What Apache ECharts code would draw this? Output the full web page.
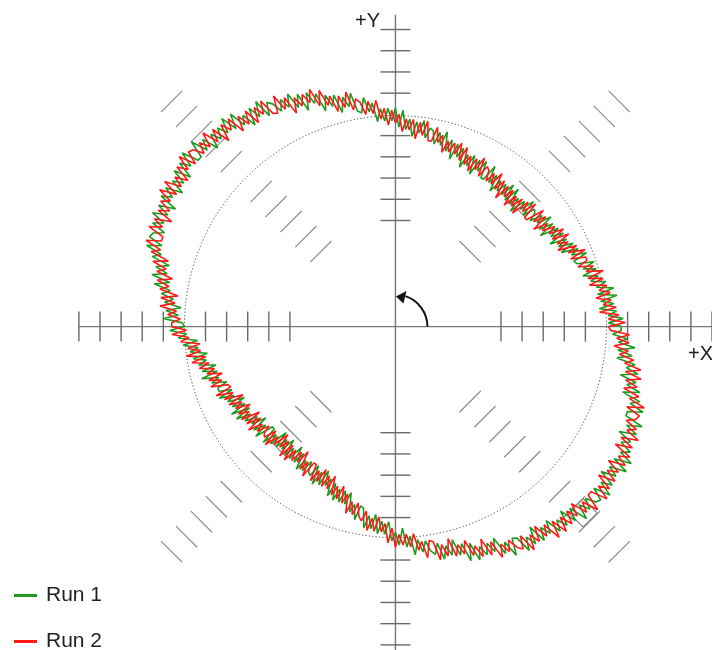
<!DOCTYPE html>
<html><head><meta charset="utf-8">
<script src="https://cdn.jsdelivr.net/npm/echarts@6/dist/echarts.min.js"></script>
<style>html,body{margin:0;padding:0;background:#fff}#c{width:712px;height:650px}</style>
</head><body><div id="c"></div>
<script>
// ---- data (radius in % of nominal, one sample per degree, CCW from +X) ----
const ANGLE_STEP_DEG = 1;
const seriesNames = ['Run 1', 'Run 2'];
const run1R = [
107,101,108,101,105,97,104,98,106,97, 105,97,102,95,99,92,99,93,99,91,
90,97,90,94,86,93,86,91,83,91, 85,90,81,89,82,90,83,87,81,85,
86,80,88,81,85,77,84,79,87,79, 87,80,85,80,85,78,86,81,89,81,
81,89,83,88,80,89,83,88,81,90, 85,91,83,92,86,95,88,94,88,94,
95,90,98,92,97,90,98,93,102,94, 103,97,103,97,103,97,106,102,109,102,
103,112,106,111,104,113,108,114,107,116, 112,118,110,119,113,121,115,120,115,120,
122,116,125,118,124,116,123,119,127,120, 128,121,126,121,126,119,127,122,130,122,
122,130,123,128,120,128,121,126,119,127, 122,127,118,126,120,127,120,125,118,123,
124,117,124,116,120,111,117,111,118,109, 116,108,112,106,110,102,109,103,110,101,
100,107,99,103,94,101,94,98,90,97, 91,95,87,94,87,95,87,91,84,89,
89,83,90,83,87,79,86,80,88,79, 87,80,84,78,82,75,83,77,84,75,
75,83,76,81,72,80,74,79,72,80, 75,80,72,80,74,82,76,81,75,80,
81,75,84,77,83,75,82,78,86,79, 87,81,87,81,87,81,90,86,93,86,
87,96,90,96,89,98,92,98,92,101, 97,103,95,104,99,108,101,107,102,107,
109,104,112,106,111,104,112,107,116,108, 117,111,116,111,116,110,119,114,122,114,
115,123,117,122,114,123,117,122,116,124, 119,124,117,125,119,128,121,126,121,126,
127,121,129,122,127,119,126,121,129,121, 129,122,126,120,124,117,125,119,126,117,
117,124,117,121,112,120,113,117,109,117, 111,115,106,113,106,114,106,110,103,107
];
const run2R = [
101,109,101,106,97,105,99,103,96,103, 98,102,94,101,94,102,94,98,91,96,
96,89,97,89,94,85,91,86,93,85, 92,85,89,83,87,80,88,82,89,80,
80,88,81,86,77,85,79,84,77,85, 80,85,77,86,80,88,81,86,81,86,
87,81,90,83,88,81,88,83,91,84, 92,86,91,86,91,85,93,89,96,89,
89,98,91,97,89,98,93,98,92,100, 96,102,95,103,98,107,101,107,101,107,
109,104,113,106,112,105,113,109,117,110, 119,113,118,113,118,111,120,115,123,115,
116,124,118,123,116,124,118,124,117,126, 121,126,118,127,121,129,122,127,122,127,
128,122,130,123,128,120,126,121,129,121, 129,122,126,120,125,117,125,120,126,118,
118,125,117,121,112,119,112,116,108,115, 109,113,104,112,105,112,104,108,102,106,
106,99,106,98,102,93,99,93,100,91, 98,90,95,88,92,85,92,86,92,84,
83,91,83,88,79,87,81,85,78,85, 80,85,76,84,77,85,78,82,76,80,
81,75,83,76,80,72,79,74,82,74, 82,75,80,74,79,72,81,76,83,75,
75,83,77,82,75,83,77,83,76,85, 80,86,79,87,82,91,85,91,85,91,
93,88,97,91,97,90,97,93,102,95, 104,98,103,98,104,98,106,102,110,102,
103,112,105,111,103,112,107,112,106,114, 110,116,108,117,111,120,114,119,114,119,
121,115,124,117,122,115,122,117,126,118, 126,119,125,119,124,118,126,121,129,121,
121,129,122,127,119,127,121,126,119,127, 122,127,118,126,119,127,120,124,118,122,
123,116,124,116,120,112,118,112,119,111, 118,110,114,107,111,104,111,105,111,102
];
const nominalRadius = 100;
const tickRadii = [50, 60, 70, 80, 90, 110, 120, 130, 140, 150];
const tickDirections = [0, 45, 90, 135, 180, 225, 270, 315];
const axisLabels = ['+X', '+Y'];
const startMarker = [88.9, -87.8];

// ---- build ----
const D2R = Math.PI / 180;
function toXY(rs) {
  const pts = rs.map((r, i) => {
    const a = i * ANGLE_STEP_DEG * D2R;
    return [r * Math.cos(a), r * Math.sin(a)];
  });
  pts.push(pts[0]);
  return pts;
}
const tickData = [];
tickDirections.forEach(d => tickRadii.forEach(r => {
  if (!(d === 90 && r === 150)) tickData.push([r, d]);
}));
const FONT = '"Liberation Sans", Arial, sans-serif';
const legendText = {fontSize: 21, color: '#222', fontFamily: FONT, padding: [0, 0, 0, 4]};

const chart = echarts.init(document.getElementById('c'), null, {renderer: 'canvas'});
chart.setOption({
  animation: false,
  backgroundColor: '#fff',
  grid: {left: 78.9, top: 8.3, width: 636.6, height: 636.6},
  xAxis: {type: 'value', min: -150, max: 150, show: false},
  yAxis: {type: 'value', min: -150, max: 150, show: false},
  legend: [
    {data: [seriesNames[0]], left: 14, top: 585, padding: 0, itemWidth: 23, itemHeight: 3, icon: 'rect', textStyle: legendText},
    {data: [seriesNames[1]], left: 14, top: 631, padding: 0, itemWidth: 23, itemHeight: 3, icon: 'rect', textStyle: legendText}
  ],
  series: [
    {
      type: 'custom', z: 1, silent: true, clip: false,
      data: [[0, 0]],
      encode: {x: 0, y: 1},
      renderItem: function (params, api) {
        const c = api.coord([0, 0]);
        const e = api.coord([nominalRadius, 0]);
        const R = e[0] - c[0];
        const xl = api.coord([-150, 0]), xr = api.coord([160, 0]);
        const yt = api.coord([0, 147]), yb = api.coord([0, -160]);
        const m = api.coord(startMarker);
        const aR = 32;
        return {
          type: 'group', children: [
            {type: 'line', shape: {x1: xl[0], y1: c[1], x2: xr[0], y2: c[1]}, style: {stroke: '#777', lineWidth: 1.4}},
            {type: 'line', shape: {x1: c[0], y1: yt[1], x2: c[0], y2: yb[1]}, style: {stroke: '#777', lineWidth: 1.4}},
            {type: 'circle', shape: {cx: c[0], cy: c[1], r: R}, style: {fill: 'none', stroke: '#444', lineWidth: 1, lineDash: [1.2, 2.2]}},
            {type: 'arc', shape: {cx: c[0], cy: c[1], r: aR, startAngle: -72 * D2R, endAngle: 0, clockwise: true}, style: {fill: 'none', stroke: '#111', lineWidth: 2}},
            {type: 'polygon', shape: {points: [[c[0] + 0.5, c[1] - 30], [c[0] + 11, c[1] - 35.5], [c[0] + 8, c[1] - 23]]}, style: {fill: '#111'}},
            {type: 'rect', x: m[0], y: m[1], rotation: 45 * D2R, shape: {x: -10, y: -10, width: 20, height: 20}, style: {fill: 'none', stroke: '#777', lineWidth: 1}}
          ]
        };
      }
    },
    {
      type: 'custom', z: 1, silent: true, clip: false,
      data: tickData,
      encode: {x: -1, y: -1},
      renderItem: function (params, api) {
        const r = api.value(0), d = api.value(1);
        const a = d * D2R;
        const p = api.coord([r * Math.cos(a), r * Math.sin(a)]);
        const tx = Math.sin(a), ty = Math.cos(a), h = 15;
        const diag = d % 90 !== 0;
        return {type: 'line', shape: {x1: p[0] - tx * h, y1: p[1] - ty * h, x2: p[0] + tx * h, y2: p[1] + ty * h},
          style: {stroke: diag ? '#8c8c8c' : '#6a6a6a', lineWidth: diag ? 1.2 : 1.4}};
      }
    },
    {
      name: seriesNames[0], type: 'line', z: 3, data: toXY(run1R), showSymbol: false, symbol: 'none',
      lineStyle: {color: '#1e9a1e', width: 1.6}, itemStyle: {color: '#1e9a1e'}
    },
    {
      name: seriesNames[1], type: 'line', z: 4, data: toXY(run2R), showSymbol: false, symbol: 'none',
      lineStyle: {color: '#ff1a1a', width: 1.6}, itemStyle: {color: '#ff1a1a'}
    }
  ],
  graphic: [
    {type: 'text', left: 355, top: 11, style: {text: axisLabels[1], fontSize: 20, fill: '#222', fontFamily: FONT}},
    {type: 'text', left: 688, top: 344, style: {text: axisLabels[0], fontSize: 20, fill: '#222', fontFamily: FONT}}
  ]
});
</script></body></html>
